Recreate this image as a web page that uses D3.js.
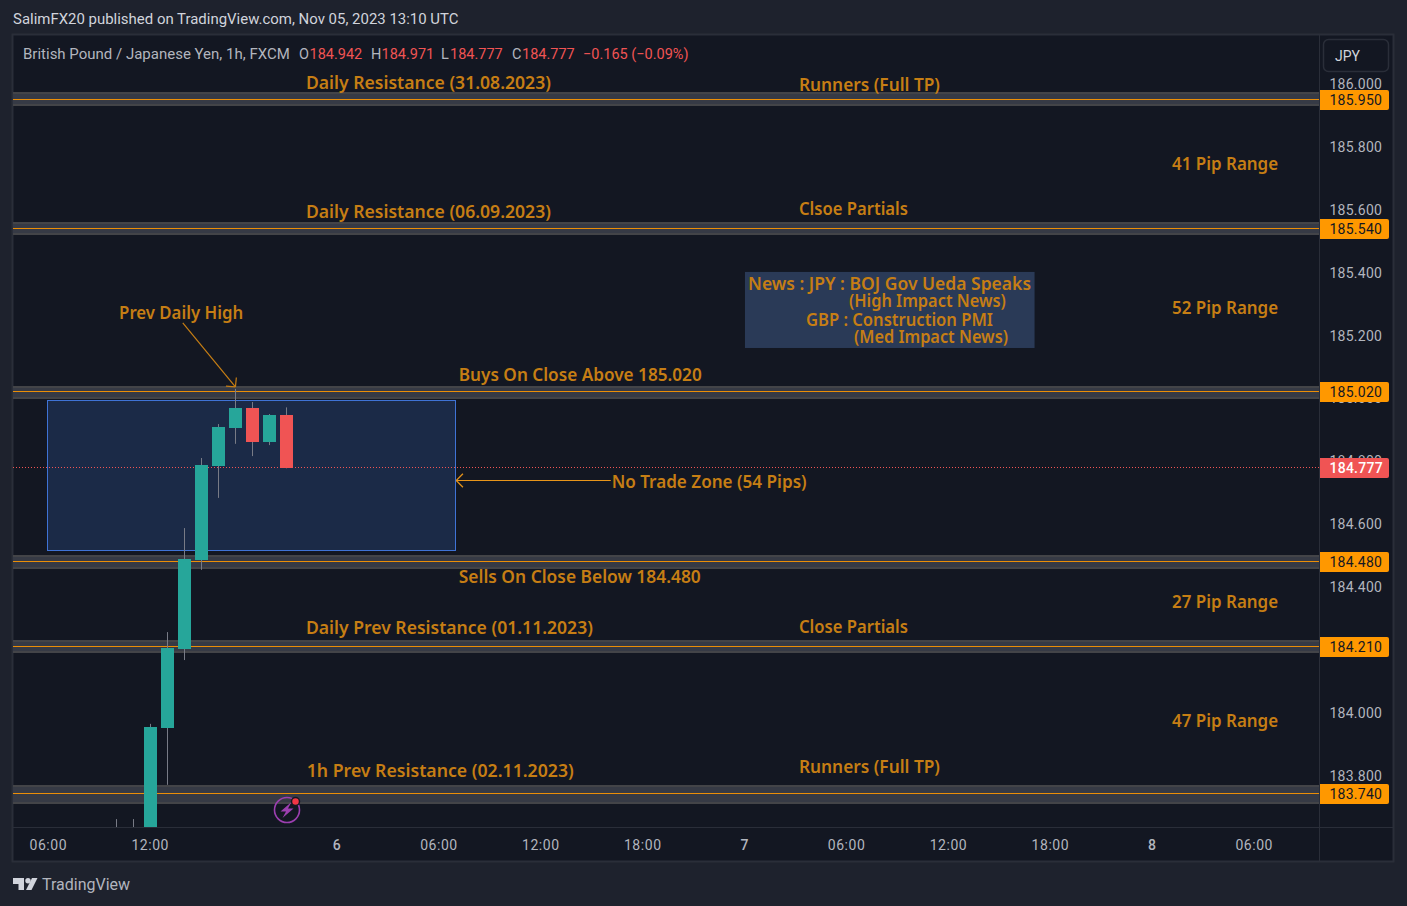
<!DOCTYPE html>
<html><head><meta charset="utf-8">
<script src="https://cdn.jsdelivr.net/npm/d3@7"></script>
<style>
html,body{margin:0;padding:0;background:#1e222d;overflow:hidden}
svg{display:block}
text{font-family:"Noto Sans",sans-serif}
.ax text{font-family:Roboto,sans-serif}
</style></head><body><div id="c"></div>
<script>
// ---- data ----
const barIndex = [-2,-1,0,1,2,3,4,5,6,7,8];
const opens  = [183.600,183.600,183.500,183.951,184.202,184.486,184.785,184.906,184.969,184.861,184.946];
const highs  = [183.661,183.661,183.964,184.256,184.587,184.810,184.918,185.030,184.988,184.950,184.971];
const lows   = [183.500,183.500,183.400,183.770,184.167,184.454,184.683,184.855,184.816,184.851,184.777];
const closes = [183.620,183.620,183.954,184.206,184.489,184.788,184.909,184.969,184.861,184.946,184.777];

const priceTicks = [186.0,185.8,185.6,185.4,185.2,185.0,184.8,184.6,184.4,184.2,184.0,183.8];
const levels = [185.950,185.540,185.020,184.480,184.210,183.740];
const levelTop = [185.974,185.560,185.038,184.502,184.230,183.770];
const levelBottom = [185.930,185.518,184.998,184.458,184.188,183.708];
const lastPrice = 184.777;

const timeTickIdx = [-6,0,11,17,23,29,35,41,47,53,59,65];
const timeTickLabels = ["06:00","12:00","6","06:00","12:00","18:00","7","06:00","12:00","18:00","8","06:00"];
const dayTicks = ["6","7","8"];

const noteText = ["Daily Resistance (31.08.2023)","Runners (Full TP)","41 Pip Range","Daily Resistance (06.09.2023)","Clsoe Partials","Prev Daily High","52 Pip Range","Buys On Close Above 185.020","No Trade Zone (54 Pips)","Sells On Close Below 184.480","27 Pip Range","Daily Prev Resistance (01.11.2023)","Close Partials","47 Pip Range","1h Prev Resistance (02.11.2023)","Runners (Full TP)"];
const noteIdx  = [9.15,38.18,60.15,9.15,38.18,-1.85,60.15,18.15,27.15,18.15,60.15,9.15,38.18,60.15,9.2,38.18];
const notePrice= [186.003,185.997,185.745,185.593,185.602,185.271,185.287,185.074,184.734,184.431,184.352,184.269,184.272,183.973,183.814,183.827];
const noteLen  = [245,141,106,245,109,124,106,243,195,242,106,287,109,106,267,141];

const newsLines = ["News : JPY : BOJ Gov Ueda Speaks","(High Impact News)","GBP : Construction PMI","(Med Impact News)"];
const newsIdx   = [35.18,41.12,38.59,41.42];
const newsPrice = [185.364,185.310,185.250,185.196];
const newsLen   = [283,157,187,154];
const newsBoxIdx = [35.0,52.05];
const newsBoxPrice = [185.402,185.160];

const zoneIdx = [-6.09,17.92];
const zonePrice = [184.995,184.517];
const trendIdx = [1.9,5.0];
const trendPrice = [185.240,185.036];
const zoneArrowIdx = [27.1,18.0];
const zoneArrowPrice = 184.738;

const legendName = "British Pound / Japanese Yen, 1h, FXCM";
const ohlcLabels = ["O","H","L","C"];
const ohlcValues = ["184.942","184.971","184.777","184.777"];
const changeText = "\u22120.165 (\u22120.09%)";

// ---- layout ----
const W=1407,H=906;
const paneL=13,paneR=1319,paneT=35,paneB=827;
const x=d3.scaleLinear().domain([0,65]).range([150.5,1254.5]);
const y=d3.scaleLinear().domain([186,183.8]).range([84,775.4]);

const C={bg:"#1e222d",pane:"#131722",border:"#2a2e39",axis:"#b2b5be",up:"#26a69a",down:"#f05454",wick:"#787b86",
 note:"#c67e14",orange:"#ff9800",bandFill:"#363a45",bandEdge:"#434448",zone:"#1b2a47",zoneEdge:"#3f73d6",news:"#2a3a57"};

const svg=d3.select("#c").append("svg").attr("width",W).attr("height",H);
svg.append("rect").attr("width",W).attr("height",H).attr("fill",C.bg);
svg.append("rect").attr("x",12.5).attr("y",34.5).attr("width",1381).attr("height",827).attr("fill",C.pane).attr("stroke",C.border).attr("stroke-width",2);
svg.append("defs").append("clipPath").attr("id","pc").append("rect").attr("x",paneL).attr("y",paneT).attr("width",paneR-paneL).attr("height",paneB-paneT);
const g=svg.append("g").attr("clip-path","url(#pc)");

// level bands
g.selectAll(".band").data(levels).join("rect").attr("class","band")
 .attr("x",paneL-2).attr("width",paneR-paneL+4)
 .attr("y",(d,i)=>Math.round(y(levelTop[i]))+1).attr("height",(d,i)=>Math.round(y(levelBottom[i]))-Math.round(y(levelTop[i]))-2)
 .attr("fill",C.bandFill).attr("stroke",C.bandEdge).attr("stroke-width",2);

// zone box
g.append("rect").attr("x",Math.round(x(zoneIdx[0]))+.5).attr("width",Math.round(x(zoneIdx[1])-x(zoneIdx[0])))
 .attr("y",Math.round(y(zonePrice[0]))+.5).attr("height",Math.round(y(zonePrice[1])-y(zonePrice[0])))
 .attr("fill",C.zone).attr("stroke",C.zoneEdge).attr("stroke-width",1);

g.selectAll(".lvl").data(levels).join("line").attr("class","lvl")
 .attr("x1",paneL).attr("x2",paneR).attr("y1",d=>Math.round(y(d))-.5).attr("y2",d=>Math.round(y(d))-.5)
 .attr("stroke",C.orange).attr("stroke-opacity",.9).attr("stroke-width",1);

// last price line
g.append("line").attr("x1",paneL).attr("x2",paneR).attr("y1",Math.round(y(lastPrice))-.5).attr("y2",Math.round(y(lastPrice))-.5)
 .attr("stroke",C.down).attr("stroke-width",1).attr("stroke-dasharray","1 2");

// candles
const bars=barIndex.map((b,i)=>({b,o:opens[i],h:highs[i],l:lows[i],c:closes[i]}));
const bw=13;
g.selectAll(".w").data(bars).join("line").attr("class","w")
 .attr("x1",d=>Math.floor(x(d.b))+.5).attr("x2",d=>Math.floor(x(d.b))+.5)
 .attr("y1",d=>y(d.h)).attr("y2",d=>y(d.l)).attr("stroke",C.wick).attr("stroke-width",1);
g.selectAll(".b").data(bars).join("rect").attr("class","b")
 .attr("x",d=>Math.floor(x(d.b))-6).attr("width",bw)
 .attr("y",d=>Math.round(y(Math.max(d.o,d.c)))).attr("height",d=>Math.max(1,Math.round(y(Math.min(d.o,d.c)))-Math.round(y(Math.max(d.o,d.c)))))
 .attr("fill",d=>d.c>=d.o?C.up:C.down);

// arrows
const arrow=(x1,y1,x2,y2,col)=>{
 g.append("line").attr("x1",x1).attr("y1",y1).attr("x2",x2).attr("y2",y2).attr("stroke",col).attr("stroke-width",1.2);
 const a=Math.atan2(y2-y1,x2-x1),s=9.5;
 [a+Math.PI*.75,a-Math.PI*.75].forEach(t=>g.append("line").attr("x1",x2).attr("y1",y2).attr("x2",x2+s*Math.cos(t)).attr("y2",y2+s*Math.sin(t)).attr("stroke",col).attr("stroke-width",1.2));
};
arrow(x(trendIdx[0]),y(trendPrice[0]),x(trendIdx[1]),y(trendPrice[1]),C.note);
arrow(x(zoneArrowIdx[0]),Math.round(y(zoneArrowPrice))-.5,x(zoneArrowIdx[1]),Math.round(y(zoneArrowPrice))-.5,"#e8951a");

// news box
g.append("rect").attr("x",x(newsBoxIdx[0])).attr("width",x(newsBoxIdx[1])-x(newsBoxIdx[0]))
 .attr("y",y(newsBoxPrice[0])).attr("height",y(newsBoxPrice[1])-y(newsBoxPrice[0])).attr("fill",C.news);
const noteFont={size:"17px",weight:600};
g.selectAll(".news").data(newsLines).join("text").attr("class","news")
 .attr("x",(d,i)=>x(newsIdx[i])).attr("y",(d,i)=>y(newsPrice[i])).attr("dy","0.35em")
 .attr("textLength",(d,i)=>newsLen[i]).attr("lengthAdjust","spacingAndGlyphs")
 .attr("fill",C.note).attr("font-size",noteFont.size).attr("font-weight",noteFont.weight).text(d=>d);

// annotations
g.selectAll(".note").data(noteText).join("text").attr("class","note")
 .attr("x",(d,i)=>x(noteIdx[i])).attr("y",(d,i)=>y(notePrice[i])).attr("dy","0.35em")
 .attr("textLength",(d,i)=>noteLen[i]).attr("lengthAdjust","spacingAndGlyphs")
 .attr("fill",C.note).attr("font-size",noteFont.size).attr("font-weight",noteFont.weight).text(d=>d);

// event icon
const ic=g.append("g").attr("transform","translate(287,810)");
ic.append("circle").attr("r",12.5).attr("fill","none").attr("stroke","#9c3fb0").attr("stroke-width",1.6);
ic.append("path").attr("d","M4.5,-8 L-6.5,1.5 L-1,1.5 L-4.5,8 L6.5,-1.5 L1,-1.5 Z").attr("fill","#9c3fb0");
ic.append("circle").attr("cx",8.5).attr("cy",-8.5).attr("r",4).attr("fill","#f23645").attr("stroke",C.pane).attr("stroke-width",1.5);

// price axis
const ya=svg.append("g").attr("class","ax").attr("transform",`translate(${paneR},0)`)
 .call(d3.axisRight(y).tickValues(priceTicks).tickFormat(d3.format(".3f")).tickSize(0).tickPadding(10.5));
ya.select(".domain").remove();
ya.selectAll("text").attr("fill",C.axis).attr("font-size","14px").attr("letter-spacing",".25px").attr("dy","0.33em");
svg.append("line").attr("x1",paneR+.5).attr("x2",paneR+.5).attr("y1",paneT).attr("y2",861).attr("stroke",C.border).attr("stroke-width",1);
svg.append("line").attr("x1",paneL).attr("x2",1393).attr("y1",paneB+.5).attr("y2",paneB+.5).attr("stroke",C.border).attr("stroke-width",1);

// time axis
const xa=svg.append("g").attr("class","ax").attr("transform",`translate(-0.8,${paneB})`)
 .call(d3.axisBottom(x).tickValues(timeTickIdx).tickFormat((d,i)=>timeTickLabels[i]).tickSize(0).tickPadding(13));
xa.select(".domain").remove();
xa.selectAll("text").attr("fill",C.axis).attr("font-size","14px").attr("letter-spacing",".55px")
 .attr("font-weight",function(){return dayTicks.includes(this.textContent)?500:400});

// price tags
const tag=(p,fill,col,w)=>{
 const yy=Math.round(y(p));
 svg.append("path").attr("d",`M1320,${yy-10}H1387a2,2 0 0 1 2,2V${yy+8}a2,2 0 0 1 -2,2H1320Z`).attr("fill",fill);
 svg.append("text").attr("class","tg").attr("x",1329.5).attr("y",yy).attr("dy","0.36em").attr("fill",col).attr("font-size","14px")
  .attr("font-weight",w).attr("letter-spacing",".25px").style("font-family","Roboto,sans-serif").text(d3.format(".3f")(p));
};
levels.forEach(l=>tag(l,C.orange,"#131722",400));
tag(lastPrice,C.down,"#ffffff",500);

// currency button
svg.append("rect").attr("x",1323.5).attr("y",39.5).attr("width",65).attr("height",32).attr("rx",5).attr("fill",C.pane).attr("stroke",C.border).attr("stroke-width",1.5);
svg.append("text").attr("x",1335).attr("y",55.5).attr("dy","0.36em").attr("fill","#d1d4dc").attr("font-size","14px").style("font-family","Roboto,sans-serif").text("JPY");

// legend
const lg=svg.append("g");
const leg=(t,px,col,fs)=>lg.append("text").attr("x",px).attr("y",54).attr("dy","0.36em").attr("fill",col).attr("font-size",fs).style("font-family","Roboto,sans-serif").text(t);
leg(legendName,23,C.axis,"15px");
const lx=[299,371,441,512],vx=[309.5,381.5,450,522];
ohlcLabels.forEach((l,i)=>{leg(l,lx[i],C.axis,"14.5px");leg(ohlcValues[i],vx[i],C.down,"14.5px")});
leg(changeText,583,C.down,"14.5px");

// header / footer
svg.append("text").attr("x",13).attr("y",19).attr("dy","0.36em").attr("fill","#d1d4dc").attr("font-size","14.96px").style("font-family","Roboto,sans-serif").text("SalimFX20 published on TradingView.com, Nov 05, 2023 13:10 UTC");
const lgp=svg.append("g").attr("fill","#d1d4dc");
lgp.append("path").attr("d","M13,878H24V890H18.5V884H13Z");
lgp.append("circle").attr("cx",28).attr("cy",880.8).attr("r",2.7);
lgp.append("path").attr("d","M32,878H37.5L31.5,890H26Z");
svg.append("text").attr("x",42).attr("y",884).attr("dy","0.36em").attr("fill","#b2b5be").attr("font-size","16px").style("font-family","Roboto,sans-serif").text("TradingView");
</script></body></html>
